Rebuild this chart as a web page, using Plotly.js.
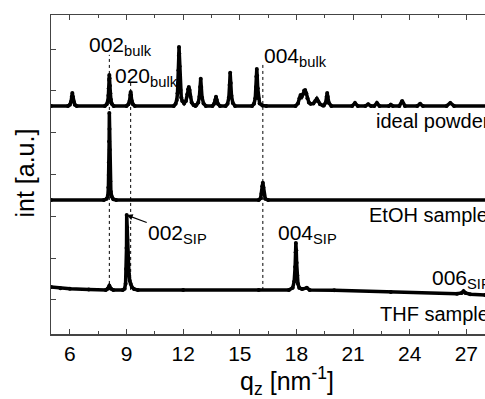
<!DOCTYPE html>
<html>
<head>
<meta charset="utf-8">
<script src="https://cdn.plot.ly/plotly-3.0.1.min.js"></script>
<style>
html,body{margin:0;padding:0;overflow:hidden;background:#fff;width:485px;height:399px;}
#chart{width:528px;height:399px;}
</style>
</head>
<body>
<div id="chart"></div>
<script>
// ideal powder pattern (intensity above its own baseline, a.u.)
const qPowder = [5.0,5.90,6.00,6.06,6.10,6.13,6.16,6.20,6.26,6.36,
  7.85,7.95,8.01,8.04,8.06,8.08,8.09,8.10,8.12,8.14,8.17,8.22,8.32,
  9.00,9.10,9.16,9.20,9.22,9.24,9.28,9.34,9.44,
  11.50,11.60,11.66,11.70,11.73,11.75,11.77,11.78,11.79,11.81,11.83,11.86,11.90,11.95,
  12.05,12.15,12.22,12.26,12.30,12.34,12.38,12.45,12.55,12.65,
  12.70,12.80,12.86,12.90,12.93,12.96,13.00,13.08,13.20,
  13.55,13.64,13.70,13.74,13.78,13.84,13.95,
  14.25,14.35,14.42,14.46,14.49,14.52,14.56,14.63,14.75,
  15.65,15.75,15.82,15.86,15.88,15.90,15.92,15.95,15.99,16.05,16.20,16.40,
  17.95,18.08,18.16,18.22,18.28,18.34,18.40,18.46,18.52,18.58,18.66,18.75,
  18.90,19.00,19.08,19.16,19.25,19.40,
  19.45,19.55,19.60,19.63,19.66,19.72,19.85,
  20.95,21.10,21.25,21.65,21.80,21.95,22.12,22.26,22.40,
  22.90,23.00,23.10,23.45,23.60,23.75,24.40,24.55,24.70,
  25.95,26.15,26.35,30.0];
const iPowder = [0,0,0.03,0.10,0.22,0.31,0.22,0.10,0.03,0,
  0,0.04,0.12,0.25,0.42,0.62,0.74,0.66,0.48,0.30,0.15,0.05,0,
  0,0.04,0.12,0.26,0.33,0.26,0.12,0.04,0,
  0,0.05,0.14,0.30,0.55,0.85,1.20,1.41,1.25,0.95,0.65,0.38,0.20,0.12,
  0.06,0.12,0.28,0.40,0.45,0.38,0.22,0.08,0.02,0,
  0.02,0.08,0.22,0.45,0.65,0.45,0.20,0.06,0,
  0,0.05,0.14,0.22,0.14,0.05,0,
  0,0.05,0.20,0.50,0.79,0.55,0.24,0.07,0,
  0,0.05,0.18,0.45,0.70,0.88,0.72,0.42,0.18,0.06,0.01,0,
  0,0.06,0.18,0.26,0.22,0.28,0.36,0.38,0.30,0.18,0.08,0.05,
  0.06,0.12,0.17,0.11,0.04,0.01,
  0.01,0.08,0.22,0.31,0.22,0.07,0,
  0,0.07,0,0,0.04,0,0,0.07,0,
  0,0.03,0,0,0.12,0,0,0.05,0,
  0,0.07,0,0];

// EtOH sample
const qEtOH = [5.0,7.80,7.95,8.01,8.04,8.06,8.07,8.08,8.09,8.10,8.11,8.12,8.14,8.17,8.22,8.30,8.45,
  16.00,16.10,16.15,16.19,16.22,16.25,16.29,16.35,16.50,30.0];
const iEtOH = [0,0,0.03,0.10,0.30,0.60,0.90,1.40,2.08,1.70,1.20,0.80,0.45,0.20,0.08,0.02,0,
  0,0.04,0.15,0.33,0.41,0.30,0.12,0.03,0,0];

// THF sample
const qTHF = [5.0,5.5,6.0,7.0,7.9,8.0,8.09,8.18,8.3,8.8,8.9,8.95,8.98,9.00,9.01,9.03,9.05,9.07,9.10,9.13,9.17,9.22,9.28,9.40,9.60,
  12.0,16.0,17.6,17.8,17.88,17.93,17.96,17.97,17.99,18.01,18.04,18.08,18.15,18.3,18.55,18.7,
  20.0,23.0,26.5,26.75,26.85,26.95,27.2,28.0,30.0];
const iTHF = [0.07,0.04,0.03,0.01,0,0.03,0.10,0.03,0,0,0.03,0.15,0.50,1.00,1.79,1.50,1.20,0.90,0.60,0.38,0.22,0.14,0.07,0.02,0,
  0,0,0,0.05,0.20,0.55,0.90,1.12,0.95,0.65,0.35,0.15,0.05,0.02,0.05,0,
  -0.01,-0.05,-0.09,-0.07,-0.03,-0.07,-0.10,-0.12,-0.14];

// vertical offsets used to stack the three patterns
const offsetPowder = 4.64, offsetEtOH = 2.39, offsetTHF = 0.24;

// reference (bulk) peak positions marked by dotted lines
const refQ = [8.09, 9.22, 16.22];
const refTop = [5.86, 5.21, 5.67];

const xTicks = [6,9,12,15,18,21,24,27];

const F = 'Liberation Sans, Arial, sans-serif';
function trace(q, I, off){
  return {x:q, y:I.map(v=>v+off), mode:'lines+markers', type:'scatter',
    line:{color:'#000', width:3.5}, marker:{color:'#000', size:4}, showlegend:false, hoverinfo:'skip'};
}
const data = [trace(qPowder,iPowder,offsetPowder), trace(qEtOH,iEtOH,offsetEtOH), trace(qTHF,iTHF,offsetTHF)];

const shapes = refQ.map((q,k)=>({type:'line', xref:'x', yref:'y', x0:q, x1:q, y0:offsetTHF, y1:refTop[k],
  line:{color:'#000', width:1, dash:'dot'}, layer:'below'}));

function lab(text,x,y,extra){
  return Object.assign({text:text, x:x, y:y, xref:'x', yref:'y', showarrow:false, xanchor:'left', yanchor:'middle',
    font:{family:F, size:21, color:'#000'}}, extra||{});
}
const annotations = [
  lab('002<sub>bulk</sub>', 6.91, 6.08),
  lab('020<sub>bulk</sub>', 8.27, 5.34),
  lab('004<sub>bulk</sub>', 16.17, 5.82),
  lab('ideal powder', 22.12, 4.27, {font:{family:F,size:20,color:'#000'}}),
  lab('EtOH sample', 21.73, 2.02, {font:{family:F,size:20,color:'#000'}}),
  lab('THF sample', 22.33, -0.33, {font:{family:F,size:20,color:'#000'}}),
  lab('004<sub>SIP</sub>', 16.92, 1.57),
  lab('006<sub>SIP</sub>', 25.08, 0.51),
  {text:'002<sub>SIP</sub>', x:9.01, y:2.03, xref:'x', yref:'y', showarrow:true, ax:51, ay:19,
   arrowhead:2, arrowsize:1, arrowwidth:1.2, arrowcolor:'#000', standoff:0,
   font:{family:F, size:21, color:'#000'}},
  {text:'int [a.u.]', xref:'paper', yref:'paper', x:0, y:0.503, xshift:-26, xanchor:'center', yanchor:'middle',
   textangle:-90, showarrow:false, font:{family:F, size:25, color:'#000'}}
];

const layout = {
  width:528, height:399,
  margin:{l:51, r:5, t:15, b:65},
  paper_bgcolor:'#fff', plot_bgcolor:'#fff',
  font:{family:F, color:'#000'},
  xaxis:{range:[5,30], tickvals:xTicks, ticktext:xTicks.map(String), ticks:'inside', ticklen:5, tickwidth:1,
    tickcolor:'#444', showline:true, linecolor:'#444', linewidth:1.5, mirror:'ticks', showgrid:false, zeroline:false,
    tickfont:{family:F, size:21, color:'#000'},
    minor:{dtick:1.5, tick0:4.5, ticks:'inside', ticklen:3, tickcolor:'#444', showgrid:false},
    title:{text:'q<sub>z</sub> [nm<sup>-1</sup>]', font:{family:F, size:25, color:'#000'}, standoff:8}},
  yaxis:{range:[-0.813,6.813], tick0:0, dtick:1, ticks:'inside', ticklen:5, tickcolor:'#444', showticklabels:false,
    showline:true, linecolor:'#444', linewidth:1.5, mirror:'ticks', showgrid:false, zeroline:false},
  shapes:shapes, annotations:annotations
};
Plotly.newPlot('chart', data, layout, {displayModeBar:false, staticPlot:true});
</script>
</body>
</html>
